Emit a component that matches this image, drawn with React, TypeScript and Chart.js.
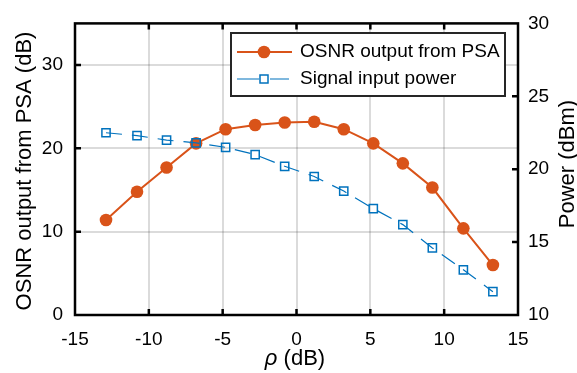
import React, { useEffect, useRef } from 'react';
import { Chart, registerables } from 'chart.js';

Chart.register(...registerables);

// ---- data ----
const rho = [-12.9, -10.8, -8.8, -6.8, -4.8, -2.8, -0.8, 1.2, 3.2, 5.2, 7.2, 9.2, 11.3, 13.3];
const osnrOut = [11.4, 14.8, 17.7, 20.6, 22.3, 22.8, 23.1, 23.2, 22.3, 20.6, 18.2, 15.3, 10.4, 6.0];
const signalPower = [22.5, 22.3, 22.0, 21.8, 21.5, 21.0, 20.2, 19.5, 18.5, 17.3, 16.2, 14.6, 13.1, 11.6];
const xTicks = [-15, -10, -5, 0, 5, 10, 15];
const yLeftTicks = [0, 10, 20, 30];
const yRightTicks = [10, 15, 20, 25, 30];
const seriesNames = ['OSNR output from PSA', 'Signal input power'];
const xTitleSymbol = 'ρ';
const xTitleUnit = ' (dB)';
const yLeftTitle = 'OSNR output from PSA (dB)';
const yRightTitle = 'Power (dBm)';

const ORANGE = '#D95319';
const BLUE = '#0072BD';
const GRID = 'rgba(0,0,0,0.14)';
const FONT = '"Liberation Sans", Arial, Helvetica, sans-serif';

const decorPlugin = {
  id: 'decor',
  afterDraw(chart: any) {
    const { ctx, chartArea: ca, scales } = chart;
    const { left, right, top, bottom } = ca;
    ctx.save();
    // inward tick marks
    ctx.strokeStyle = '#000';
    ctx.lineWidth = 2.5;
    const tl = 6;
    ctx.beginPath();
    xTicks.slice(1, -1).forEach((v) => {
      const px = scales.x.getPixelForValue(v);
      ctx.moveTo(px, bottom);
      ctx.lineTo(px, bottom - tl);
      ctx.moveTo(px, top);
      ctx.lineTo(px, top + tl);
    });
    yLeftTicks.slice(1).forEach((v) => {
      const py = scales.y.getPixelForValue(v);
      ctx.moveTo(left, py);
      ctx.lineTo(left + tl, py);
    });
    yRightTicks.slice(1, -1).forEach((v) => {
      const py = scales.y2.getPixelForValue(v);
      ctx.moveTo(right, py);
      ctx.lineTo(right - tl, py);
    });
    ctx.stroke();
    // frame
    ctx.strokeRect(left, top, right - left, bottom - top);

    // legend
    const lx = 231, ly = 33, lw = 274, lh = 63;
    ctx.fillStyle = '#fff';
    ctx.fillRect(lx, ly, lw, lh);
    ctx.strokeStyle = '#262626';
    ctx.lineWidth = 2;
    ctx.strokeRect(lx, ly, lw, lh);
    const y1 = 52, y2 = 79, mx = 264;
    // entry 1
    ctx.strokeStyle = ORANGE;
    ctx.lineWidth = 2;
    ctx.beginPath();
    ctx.moveTo(237, y1);
    ctx.lineTo(292, y1);
    ctx.stroke();
    ctx.fillStyle = ORANGE;
    ctx.beginPath();
    ctx.arc(mx, y1, 6.3, 0, Math.PI * 2);
    ctx.fill();
    // entry 2
    ctx.strokeStyle = BLUE;
    ctx.lineWidth = 1.2;
    ctx.beginPath();
    ctx.moveTo(237, y2);
    ctx.lineTo(259, y2);
    ctx.moveTo(270, y2);
    ctx.lineTo(289, y2);
    ctx.stroke();
    ctx.lineWidth = 1.5;
    ctx.strokeRect(mx - 4, y2 - 4, 8, 8);
    ctx.fillStyle = '#000';
    ctx.font = `19px ${FONT}`;
    ctx.textAlign = 'left';
    ctx.textBaseline = 'middle';
    ctx.fillText(seriesNames[0], 300, y1);
    ctx.fillText(seriesNames[1], 300, y2);

    // axis titles
    ctx.font = `22px ${FONT}`;
    ctx.textAlign = 'center';
    ctx.save();
    ctx.translate(25, 171);
    ctx.rotate(-Math.PI / 2);
    ctx.fillText(yLeftTitle, 0, 0);
    ctx.restore();
    ctx.save();
    ctx.translate(568, 164);
    ctx.rotate(-Math.PI / 2);
    ctx.fillText(yRightTitle, 0, 0);
    ctx.restore();
    // x title with italic rho
    const italic = `italic 22px ${FONT}`;
    const normal = `22px ${FONT}`;
    ctx.font = italic;
    const w1 = ctx.measureText(xTitleSymbol).width;
    ctx.font = normal;
    const w2 = ctx.measureText(xTitleUnit).width;
    const sx = 295 - (w1 + w2) / 2;
    ctx.textAlign = 'left';
    ctx.font = italic;
    ctx.fillText(xTitleSymbol, sx, 359);
    ctx.font = normal;
    ctx.fillText(xTitleUnit, sx + w1, 359);
    ctx.restore();
  },
};

export default function App() {
  const ref = useRef<HTMLCanvasElement | null>(null);
  useEffect(() => {
    if (!ref.current) return;
    const tickFont = { size: 19, family: FONT, lineHeight: 1.2 };
    const chart = new Chart(ref.current, {
      type: 'line',
      data: {
        datasets: [
          {
            label: seriesNames[0],
            data: rho.map((x, i) => ({ x, y: osnrOut[i] })),
            yAxisID: 'y',
            borderColor: ORANGE,
            backgroundColor: ORANGE,
            borderWidth: 2,
            pointStyle: 'circle',
            pointRadius: 6.3,
            pointBackgroundColor: ORANGE,
            pointBorderColor: ORANGE,
            pointBorderWidth: 0,
            tension: 0,
            order: 1,
          },
          {
            label: seriesNames[1],
            data: rho.map((x, i) => ({ x, y: signalPower[i] })),
            yAxisID: 'y2',
            borderColor: BLUE,
            backgroundColor: 'rgba(0,0,0,0)',
            borderWidth: 1.2,
            borderDash: [16, 10],
            pointStyle: 'rect',
            pointRadius: 5.8,
            pointBackgroundColor: 'rgba(0,0,0,0)',
            pointBorderColor: BLUE,
            pointBorderWidth: 1.5,
            tension: 0,
            order: 0,
          },
        ],
      },
      options: {
        animation: false,
        responsive: false,
        devicePixelRatio: 1,
        layout: { padding: { top: 22, left: 0, right: 0, bottom: 0 } },
        plugins: { legend: { display: false }, tooltip: { enabled: false } },
        scales: {
          x: {
            type: 'linear',
            position: 'bottom',
            min: -15,
            max: 15,
            afterBuildTicks: (s: any) => {
              s.ticks = xTicks.map((v) => ({ value: v }));
            },
            afterFit: (s: any) => {
              s.height = 58;
            },
            ticks: { font: tickFont, color: '#000', padding: 13, maxRotation: 0, autoSkip: false },
            grid: {
              color: (c: any) => (c.tick && (c.tick.value === -15 || c.tick.value === 15) ? 'rgba(0,0,0,0)' : GRID),
              lineWidth: 2,
              drawTicks: false,
            },
            border: { display: false },
          },
          y: {
            type: 'linear',
            position: 'left',
            min: 0,
            max: 35,
            afterBuildTicks: (s: any) => {
              s.ticks = yLeftTicks.map((v) => ({ value: v }));
            },
            afterFit: (s: any) => {
              s.width = 75;
            },
            ticks: { font: tickFont, color: '#000', padding: 12 },
            grid: {
              color: (c: any) => (c.tick && c.tick.value === 0 ? 'rgba(0,0,0,0)' : GRID),
              lineWidth: 2,
              drawTicks: false,
            },
            border: { display: false },
          },
          y2: {
            type: 'linear',
            position: 'right',
            min: 10,
            max: 30,
            afterBuildTicks: (s: any) => {
              s.ticks = yRightTicks.map((v) => ({ value: v }));
            },
            afterFit: (s: any) => {
              s.width = 59;
            },
            ticks: { font: tickFont, color: '#000', padding: 10 },
            grid: { drawOnChartArea: false, drawTicks: false },
            border: { display: false },
          },
        },
      },
      plugins: [decorPlugin],
    } as any);
    return () => chart.destroy();
  }, []);
  return (
    <div style={{ position: 'absolute', left: 0, top: 0, width: 577, height: 373, background: '#fff' }}>
      <canvas ref={ref} width={577} height={373} style={{ display: 'block' }} />
    </div>
  );
}
